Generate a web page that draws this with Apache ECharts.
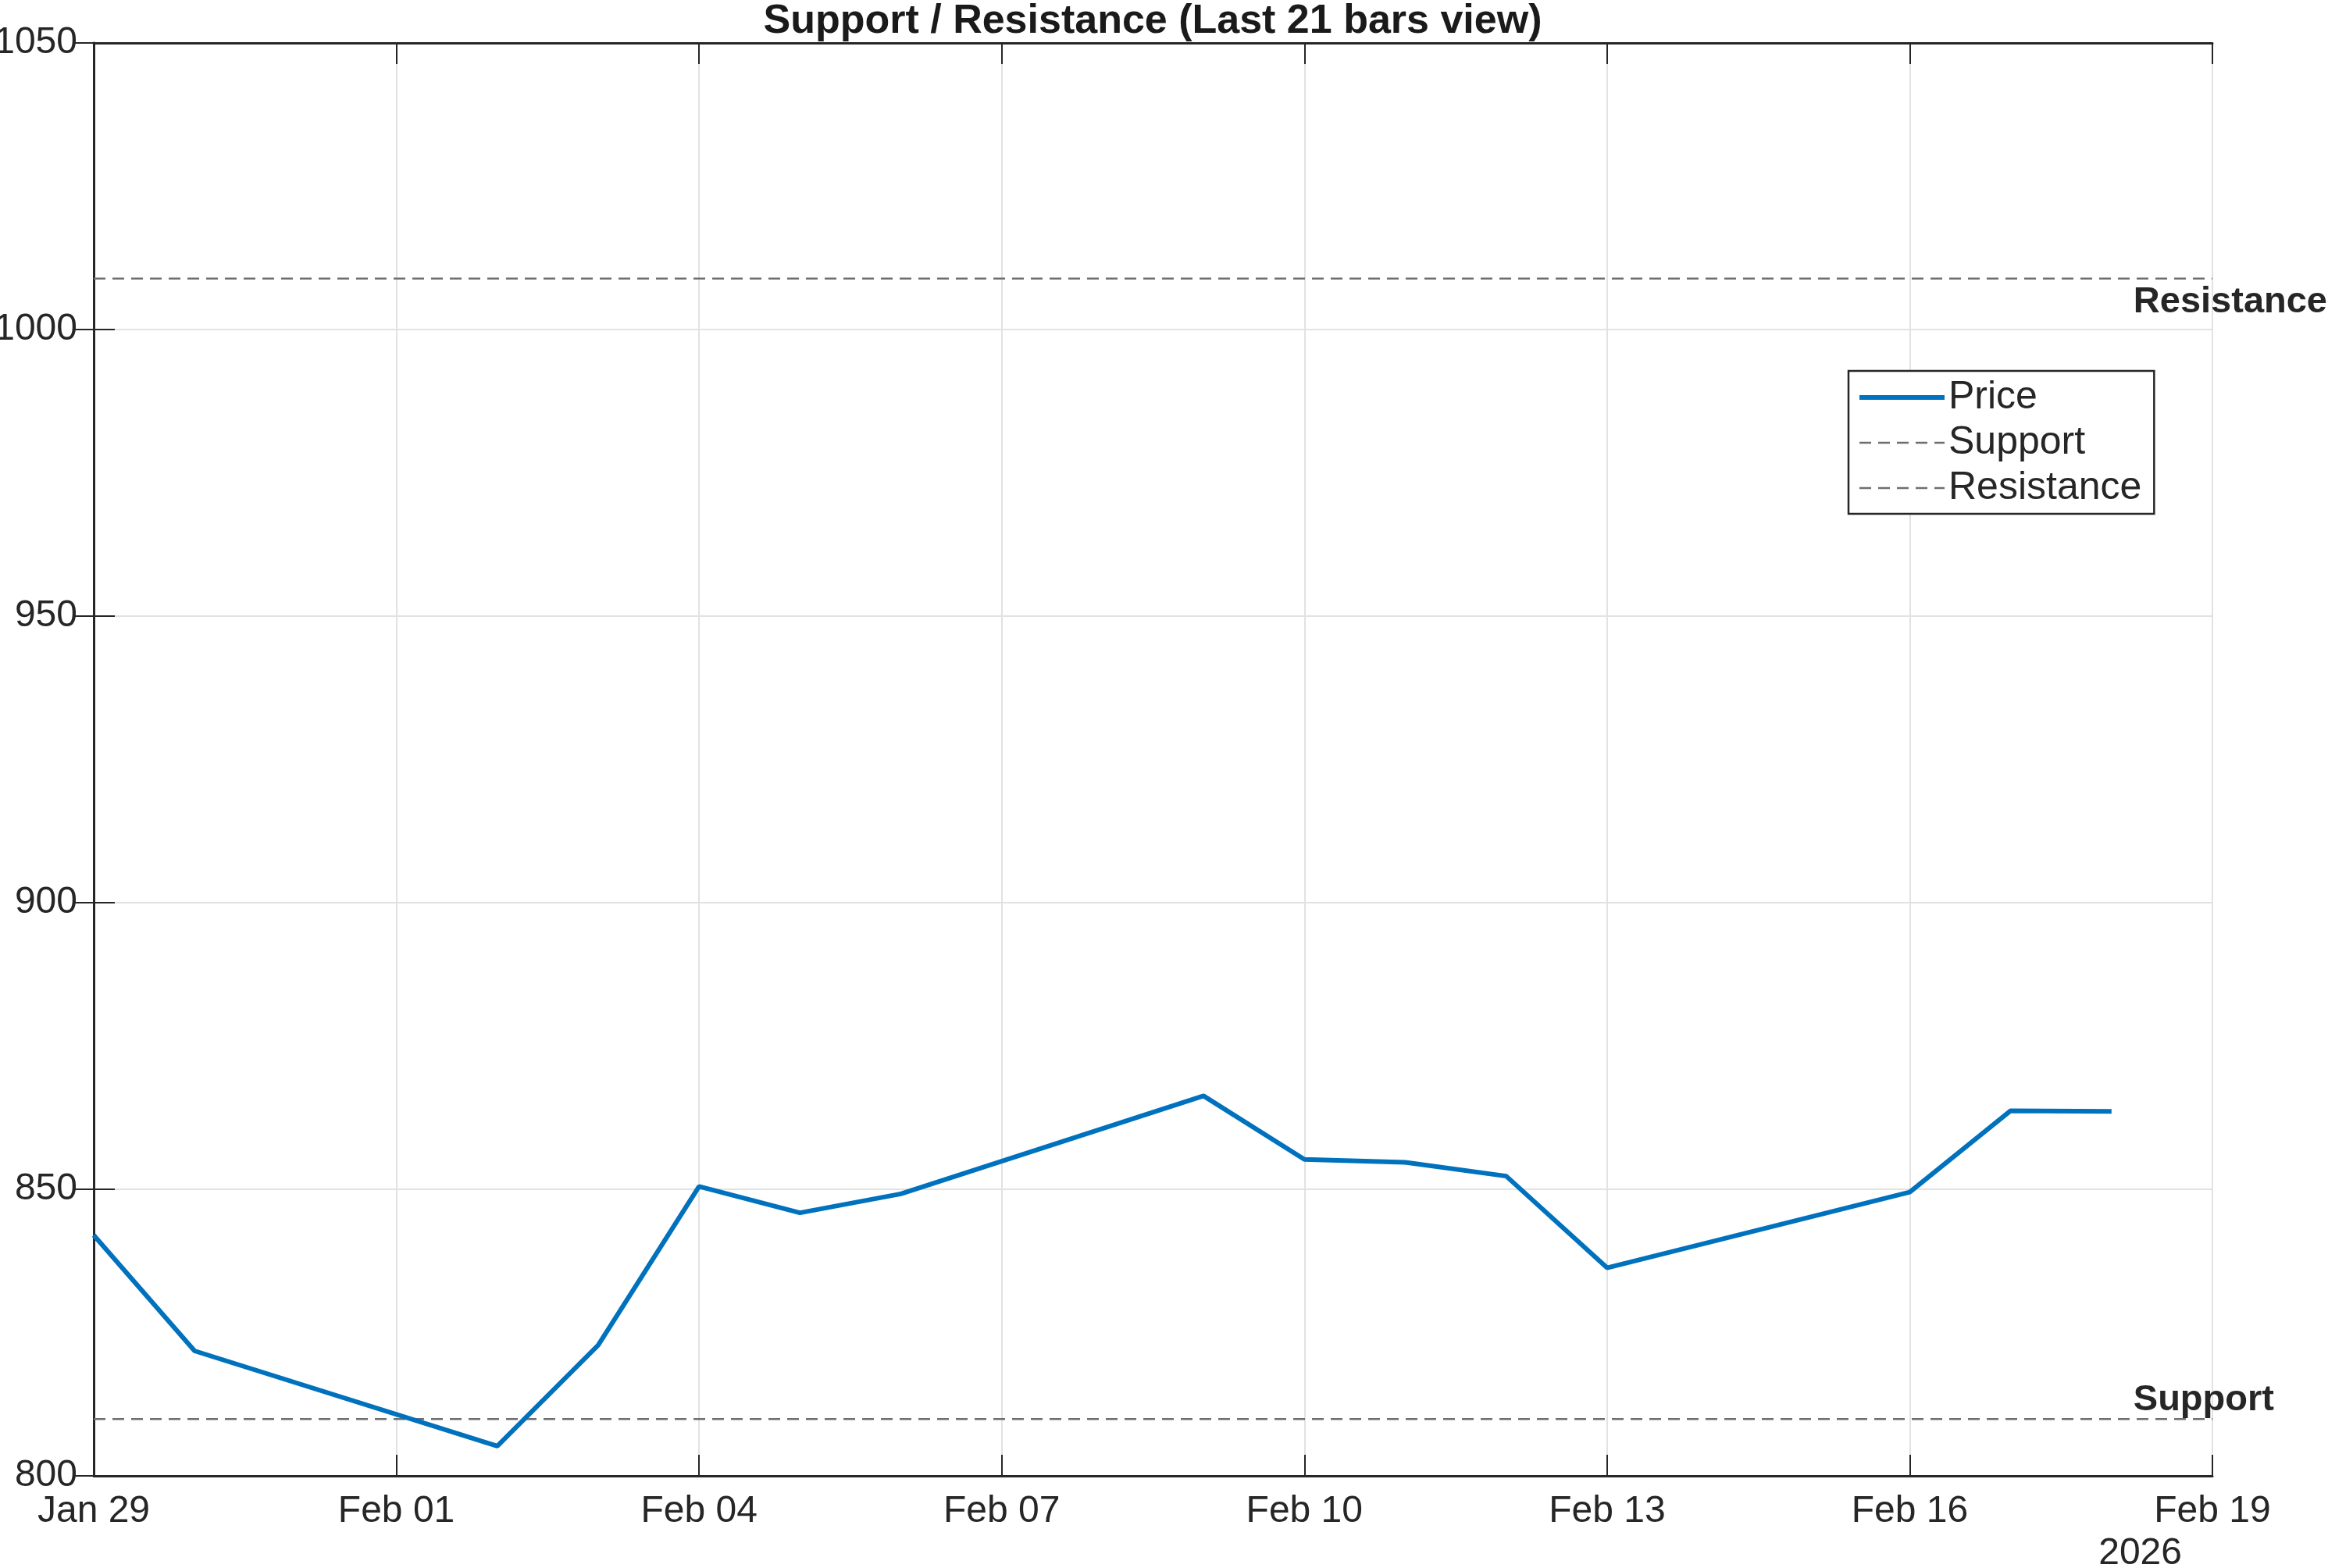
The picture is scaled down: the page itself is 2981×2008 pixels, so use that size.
<!DOCTYPE html>
<html>
<head>
<meta charset="utf-8">
<script src="https://cdn.jsdelivr.net/npm/echarts@6/dist/echarts.min.js"></script>
<style>
  html, body { margin: 0; padding: 0; background: #fff; }
  #chart { width: 2981px; height: 2008px; }
</style>
</head>
<body>
<div id="chart"></div>
<script>
// trading days shown in the window
var dates = ['2026-01-29', '2026-01-30', '2026-02-02', '2026-02-03', '2026-02-04',
  '2026-02-05', '2026-02-06', '2026-02-09', '2026-02-10', '2026-02-11',
  '2026-02-12', '2026-02-13', '2026-02-16', '2026-02-17', '2026-02-18'];
var price = [842.0, 821.8, 805.2, 822.8, 850.5, 845.9, 849.2, 866.3, 855.2, 854.7,
  852.3, 836.3, 849.5, 863.7, 863.6];
var supportLevel = 809.9;
var resistanceLevel = 1008.9;
var xStart = '2026-01-29';
var xEnd = '2026-02-19';
var yMin = 800, yMax = 1050, yStep = 50;
var months = ['Jan', 'Feb', 'Mar', 'Apr', 'May', 'Jun', 'Jul', 'Aug', 'Sep', 'Oct', 'Nov', 'Dec'];

var DAY = 86400000;
var t0 = Date.parse(xStart);
function dayIdx(s) { return (Date.parse(s) - t0) / DAY; }
var xMax = dayIdx(xEnd);

var font = "'Liberation Sans', Arial, sans-serif";
var ink = '#262626';
var dashGray = '#6e6e6e';
var dash = [15, 9];

function fmtDay(v) {
  var d = new Date(t0 + v * DAY);
  var dd = d.getUTCDate();
  return months[d.getUTCMonth()] + ' ' + (dd < 10 ? '0' + dd : dd);
}

var lastDay = dayIdx(dates[dates.length - 1]);

var chart = echarts.init(document.getElementById('chart'));
var option = {
  backgroundColor: '#fff',
  animation: false,
  title: {
    text: 'Support / Resistance (Last 21 bars view)',
    left: 1476,
    textAlign: 'center',
    top: 2,
    padding: 0,
    textStyle: { fontFamily: font, fontWeight: 'bold', fontSize: 52, color: '#1a1a1a' }
  },
  legend: {
    data: [
      { name: 'Price', lineStyle: { width: 6 }, itemStyle: { opacity: 0 } },
      { name: 'Support', lineStyle: { width: 2.5 }, itemStyle: { opacity: 0 } },
      { name: 'Resistance', lineStyle: { width: 2.5 }, itemStyle: { opacity: 0 } }
    ],
    orient: 'vertical',
    left: 2367,
    top: 475,
    itemWidth: 109,
    itemHeight: 2,
    itemGap: 0,
    padding: [5, 16, 4, 11],
    borderColor: ink,
    borderWidth: 2.5,
    backgroundColor: '#fff',
    selectedMode: false,
    textStyle: { fontFamily: font, fontSize: 50, color: ink, lineHeight: 58 }
  },
  grid: { left: 120, right: 148, top: 55, bottom: 118, containLabel: false, outerBoundsMode: 'none' },
  xAxis: [{
    type: 'value',
    position: 'bottom',
    min: 0,
    max: xMax,
    interval: 3,
    axisLine: { show: true, lineStyle: { color: ink, width: 3 } },
    axisTick: { show: true, inside: true, length: 27, lineStyle: { color: ink, width: 2 } },
    axisLabel: { formatter: fmtDay, margin: 22, fontFamily: font, fontSize: 48, color: ink,
      showMinLabel: true, showMaxLabel: true },
    splitLine: { show: true, lineStyle: { color: '#e2e2e2', width: 2 } },
    name: '2026',
    nameLocation: 'end',
    nameGap: -39,
    nameMoveOverlap: false,
    nameTextStyle: { fontFamily: font, fontSize: 48, color: ink, align: 'right',
      verticalAlign: 'top', padding: [76, 0, 0, 0] }
  }, {
    type: 'value',
    position: 'top',
    min: 0,
    max: xMax,
    interval: 3,
    axisLine: { show: true, lineStyle: { color: ink, width: 3 } },
    axisTick: { show: true, inside: true, length: 27, lineStyle: { color: ink, width: 2 } },
    axisLabel: { show: false },
    splitLine: { show: false }
  }],
  yAxis: [{
    type: 'value',
    position: 'left',
    min: yMin,
    max: yMax,
    interval: yStep,
    axisLine: { show: true, lineStyle: { color: ink, width: 3 } },
    axisTick: { show: true, inside: true, length: 27, lineStyle: { color: ink, width: 2 } },
    axisLabel: { margin: 21, fontFamily: font, fontSize: 48, color: ink,
      formatter: function (v) { return String(v); } },
    splitLine: { show: true, lineStyle: { color: '#e2e2e2', width: 2 } }
  }, {
    type: 'value',
    position: 'right',
    min: yMin,
    max: yMax,
    interval: yStep,
    axisLine: { show: true, lineStyle: { color: ink, width: 3 } },
    axisTick: { show: true, inside: true, length: 27, lineStyle: { color: ink, width: 2 } },
    axisLabel: { show: false },
    splitLine: { show: false }
  }],
  series: [{
    name: 'Price',
    type: 'line',
    symbol: 'none',
    data: dates.map(function (d, i) { return [dayIdx(d), price[i]]; }),
    lineStyle: { color: '#0072bd', width: 6 },
    itemStyle: { color: '#0072bd' },
    z: 5
  }, {
    name: 'Support',
    type: 'line',
    symbol: 'none',
    data: [[0, supportLevel], [xMax, supportLevel]],
    lineStyle: { color: dashGray, width: 2.5, type: dash },
    itemStyle: { color: dashGray },
    markPoint: {
      symbol: 'circle',
      symbolSize: 0,
      silent: true,
      data: [{ coord: [lastDay, supportLevel] }],
      label: { show: true, formatter: 'Support', position: 'right', distance: 28, offset: [0, -24],
        fontFamily: font, fontWeight: 'bold', fontSize: 47, color: ink }
    }
  }, {
    name: 'Resistance',
    type: 'line',
    symbol: 'none',
    data: [[0, resistanceLevel], [xMax, resistanceLevel]],
    lineStyle: { color: dashGray, width: 2.5, type: dash },
    itemStyle: { color: dashGray },
    markPoint: {
      symbol: 'circle',
      symbolSize: 0,
      silent: true,
      data: [{ coord: [lastDay, resistanceLevel] }],
      label: { show: true, formatter: 'Resistance', position: 'right', distance: 28, offset: [0, 30],
        fontFamily: font, fontWeight: 'bold', fontSize: 47, color: ink }
    }
  }]
};
chart.setOption(option);
</script>
</body>
</html>
